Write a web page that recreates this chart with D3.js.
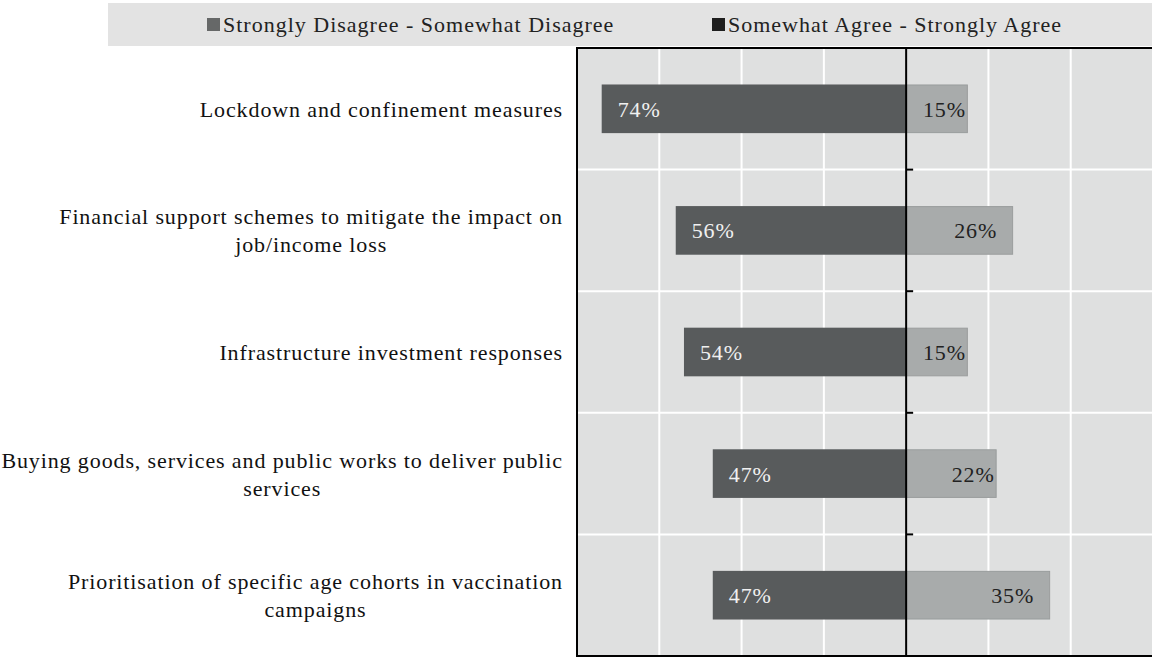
<!DOCTYPE html>
<html>
<head>
<meta charset="utf-8">
<script src="https://cdn.jsdelivr.net/npm/d3@7"></script>
<style>
  html, body { margin: 0; padding: 0; background: #ffffff; }
  svg { display: block; }
</style>
</head>
<body>
<svg id="chart" width="1152" height="657"></svg>
<script>
const categories = [
  "Lockdown and confinement measures",
  "Financial support schemes to mitigate the impact on|job/income loss",
  "Infrastructure investment responses",
  "Buying goods, services and public works to deliver public|services",
  "Prioritisation of specific age cohorts in vaccination|campaigns"
];
const disagree = [74, 56, 54, 47, 47];
const agree = [15, 26, 15, 22, 35];
const seriesNames = ["Strongly Disagree - Somewhat Disagree", "Somewhat Agree - Strongly Agree"];
const gridTicks = [-80, -60, -40, -20, 0, 20, 40, 60];

const svg = d3.select("#chart");
const W = 1152, H = 657;
const plot = { left: 577, right: 1153, top: 48, bottom: 656 };
const FONT = "Liberation Serif";
const FS = 22, LS = 0.88;

const x = d3.scaleLinear().domain([-80, 60]).range([plot.left, plot.right]);
const y = d3.scaleBand().domain(d3.range(categories.length)).range([plot.top, plot.bottom]).paddingInner(0).paddingOuter(0);
const barH = y.bandwidth() * 0.4;

function txt(sel) {
  return sel.attr("font-family", FONT).attr("font-size", FS).attr("letter-spacing", LS);
}

// legend band
svg.append("rect").attr("x", 108).attr("y", 3).attr("width", W - 108).attr("height", 43).attr("fill", "#e3e3e3");
const legendColors = ["#666868", "#1e1e1e"];
const legendX = [207, 712];
seriesNames.forEach((n, i) => {
  svg.append("rect").attr("x", legendX[i]).attr("y", 18).attr("width", 13).attr("height", 13).attr("fill", legendColors[i]);
  txt(svg.append("text")).attr("x", legendX[i] + 16).attr("y", 32).attr("letter-spacing", 1.0).attr("fill", "#222").text(n);
});

// plot background
svg.append("rect").attr("x", plot.left).attr("y", plot.top).attr("width", plot.right - plot.left).attr("height", plot.bottom - plot.top).attr("fill", "#dfe0e0");

// vertical gridlines
svg.append("g").selectAll("line").data(gridTicks.filter(d => d !== 0 && d !== -80)).join("line")
  .attr("x1", d => x(d)).attr("x2", d => x(d)).attr("y1", plot.top).attr("y2", plot.bottom)
  .attr("stroke", "#ffffff").attr("stroke-width", 2);
// horizontal gridlines at band boundaries
svg.append("g").selectAll("line").data(d3.range(1, categories.length)).join("line")
  .attr("x1", plot.left).attr("x2", plot.right).attr("y1", d => y(d)).attr("y2", d => y(d))
  .attr("stroke", "#ffffff").attr("stroke-width", 2);

// bars
const rows = categories.map((c, i) => ({ i, c, dis: disagree[i], agr: agree[i] }));
svg.append("g").selectAll("rect").data(rows).join("rect")
  .attr("x", d => x(-d.dis)).attr("y", d => y(d.i) + (y.bandwidth() - barH) / 2)
  .attr("width", d => x(0) - x(-d.dis)).attr("height", barH)
  .attr("fill", "#585b5c");
svg.append("g").selectAll("rect").data(rows).join("rect")
  .attr("x", d => x(0) + 0.5).attr("y", d => y(d.i) + (y.bandwidth() - barH) / 2 + 0.5)
  .attr("width", d => x(d.agr) - x(0) - 1).attr("height", barH - 1)
  .attr("fill", "#a8abab").attr("stroke", "#9a9d9d").attr("stroke-width", 1);

// bar labels
txt(svg.append("g").selectAll("text").data(rows).join("text"))
  .attr("x", d => x(-d.dis) + 16).attr("y", d => y(d.i) + y.bandwidth() / 2 + 8)
  .attr("fill", "#f0f0f0").text(d => d.dis + "%");
txt(svg.append("g").selectAll("text").data(rows).join("text"))
  .attr("x", d => x(d.agr) - ((x(d.agr) - x(0)) > 100 ? 16 : 2)).attr("y", d => y(d.i) + y.bandwidth() / 2 + 8)
  .attr("text-anchor", "end").attr("fill", "#222").text(d => d.agr + "%");

// zero axis line and ticks
svg.append("line").attr("x1", x(0)).attr("x2", x(0)).attr("y1", plot.top).attr("y2", plot.bottom)
  .attr("stroke", "#000").attr("stroke-width", 2);
svg.append("g").selectAll("line").data(d3.range(1, categories.length)).join("line")
  .attr("x1", x(0)).attr("x2", x(0) + 7).attr("y1", d => y(d)).attr("y2", d => y(d))
  .attr("stroke", "#000").attr("stroke-width", 2);

// borders
svg.append("line").attr("x1", plot.left).attr("x2", plot.left).attr("y1", plot.top - 1).attr("y2", plot.bottom + 1).attr("stroke", "#000").attr("stroke-width", 2);
svg.append("line").attr("x1", plot.left).attr("x2", W).attr("y1", plot.top).attr("y2", plot.top).attr("stroke", "#000").attr("stroke-width", 2);
svg.append("line").attr("x1", plot.left).attr("x2", W).attr("y1", plot.bottom).attr("y2", plot.bottom).attr("stroke", "#000").attr("stroke-width", 2);

// category labels
const labelRight = 563;
const lineH = 28;
rows.forEach(d => {
  const lines = d.c.split("|");
  const g = svg.append("g");
  const texts = lines.map((l, k) => txt(g.append("text")).attr("fill", "#111")
    .attr("text-anchor", "middle").attr("y", y(d.i) + y.bandwidth() / 2 + 8 + (k - (lines.length - 1) / 2) * lineH).text(l));
  const maxW = d3.max(texts, t => t.node().getComputedTextLength());
  texts.forEach(t => t.attr("x", labelRight - maxW / 2));
});
</script>
</body>
</html>
